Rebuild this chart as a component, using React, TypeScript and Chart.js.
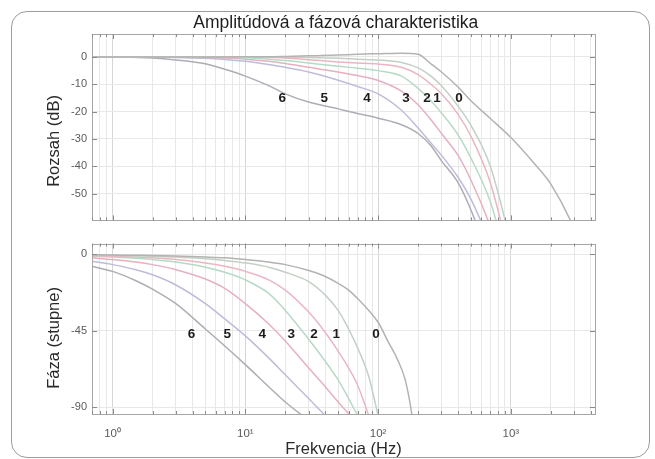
import React, { useEffect, useRef } from 'react';
import { Chart, registerables } from 'chart.js';

Chart.register(...registerables);

// ---------- texts ----------
const TITLE = 'Amplitúdová a fázová charakteristika';
const MAG_AXIS_TITLE = 'Rozsah (dB)';
const PHASE_AXIS_TITLE = 'Fáza (stupne)';
const X_AXIS_TITLE = 'Frekvencia (Hz)';

// ---------- axes ----------
const X_MIN = 0.7;
const X_MAX = 4300;
const X_DECADES = [1, 10, 100, 1000];
const X_DECADE_LABELS = ['10⁰', '10¹', '10²', '10³'];

const MAG_TICKS = [0, -10, -20, -30, -40, -50];
const MAG_MIN = -59.8;
const MAG_MAX = 8.4;
const PHASE_TICKS = [0, -45, -90];
const PHASE_MIN = -94.1;
const PHASE_MAX = 6.4;

// ---------- series ----------
const CURVE_NAMES = ['0', '1', '2', '3', '4', '5', '6'];
const CURVE_COLORS = ['#b3b3b3', '#c3d0c6', '#ebb6c3', '#b6dac6', '#e6b0bf', '#bdbddb', '#adadb5'];

const MAG_FREQ = [0.7, 1, 2, 3, 5, 7, 10, 15, 20, 30, 50, 70, 100, 150, 200, 250, 300, 400, 500, 700, 1000, 1500, 2000, 3000, 4300];
const MAG_0 = [0, 0, 0, 0, 0, 0, 0.1, 0.1, 0.2, 0.4, 0.7, 1.0, 1.2, 1.4, 1.0, -2.5, -5.5, -11, -16, -22.5, -29.5, -39, -46.5, -63, -85];
const MAG_1 = [0, 0, 0, 0, 0, 0, 0, 0, -0.1, -0.2, -0.5, -0.8, -1.1, -2, -4, -7, -10.5, -18, -25, -40, -68];
const MAG_2 = [0, 0, 0, 0, 0, 0, 0, -0.2, -0.4, -1, -1.8, -2.2, -2.6, -3.8, -6.5, -10, -13.5, -21, -29, -46, -75];
const MAG_3 = [0, 0, 0, 0, 0, -0.1, -0.3, -0.8, -1.3, -2.2, -3.4, -4.1, -5, -7, -11.5, -16, -20.5, -28.5, -37, -53, -80];
const MAG_4 = [0, 0, 0, 0, -0.2, -0.4, -0.8, -1.6, -2.4, -3.8, -5.5, -6.8, -8.6, -12.5, -17.5, -23, -28, -36, -45, -62, -85];
const MAG_5 = [0, 0, 0, -0.2, -0.5, -0.9, -1.6, -2.8, -3.8, -5.5, -8.5, -10.8, -13.5, -19.5, -26, -31.5, -36, -44, -52, -68];
const MAG_6 = [0, 0, -0.4, -1.1, -2.5, -4.5, -7, -10.5, -13.5, -16.5, -19, -20.7, -22.4, -24.8, -28, -32.5, -38, -46, -56, -75];

const PHASE_FREQ = [0.7, 1, 1.5, 2, 3, 5, 7, 10, 15, 20, 30, 40, 50, 60, 70, 85, 100, 120, 140, 160, 180, 200];
const PHASE_0 = [-0.2, -0.3, -0.5, -0.6, -0.9, -1.5, -2, -3, -4.5, -6, -9.5, -13, -17, -21, -26, -33, -40, -52, -62, -74, -95, -125];
const PHASE_1 = [-0.3, -0.5, -0.8, -1, -1.5, -2.5, -3.5, -5, -7.5, -10.5, -16, -24, -33, -44, -55, -72, -95, -120];
const PHASE_2 = [-0.7, -1, -1.5, -2, -3, -5, -7, -10, -15, -21, -34, -46, -57, -67, -77, -95, -110];
const PHASE_3 = [-1, -1.5, -2.2, -3, -4.5, -7.5, -10.5, -15, -23, -33, -50, -63, -74, -85, -95, -108];
const PHASE_4 = [-2, -3, -4.5, -6, -9, -14.5, -20, -29, -41, -51, -67, -78, -87, -94, -100];
const PHASE_5 = [-4, -6, -9, -12, -18, -29, -38, -48, -61, -71, -85, -95, -103];
const PHASE_6 = [-7, -10, -15.5, -20.5, -29, -44, -54, -65, -78, -87, -98, -106];

// curve number labels (placed in data coordinates)
const MAG_LABEL_FREQ = [407, 278, 233, 162, 82.6, 39.3, 19.0];
const MAG_LABEL_DB = -15;
const PHASE_LABEL_FREQ = [96.5, 48.3, 32.9, 22.2, 13.4, 7.3, 3.93];
const PHASE_LABEL_DEG = -46.8;

const MAG_SERIES = [MAG_0, MAG_1, MAG_2, MAG_3, MAG_4, MAG_5, MAG_6];
const PHASE_SERIES = [PHASE_0, PHASE_1, PHASE_2, PHASE_3, PHASE_4, PHASE_5, PHASE_6];

const FONT = '"Liberation Sans", Arial, Helvetica, sans-serif';

function gridTicks(): number[] {
  const out: number[] = [];
  for (let e = -1; e <= 3; e++) {
    for (let m = 1; m <= 9; m++) {
      const v = m * Math.pow(10, e);
      if (v >= X_MIN - 1e-9 && v <= X_MAX) out.push(v);
    }
  }
  return out;
}

const isDecade = (v: number) => X_DECADES.some((d) => Math.abs(d - v) < 1e-9);

const framePlugin = {
  id: 'frame',
  afterDatasetsDraw(chart: any, _args: any, opts: any) {
    const { ctx, chartArea: a, scales } = chart;
    const xs = scales.x;
    const ys = scales.y;
    ctx.save();
    ctx.strokeStyle = '#a6a6a6';
    ctx.lineWidth = 1;
    ctx.strokeRect(Math.round(a.left) + 0.5, Math.round(a.top) + 0.5, Math.round(a.width), Math.round(a.height));
    ctx.strokeStyle = '#8a8a8a';
    ctx.beginPath();
    xs.ticks.forEach((t: any) => {
      const px = Math.round(xs.getPixelForValue(t.value)) + 0.5;
      const len = isDecade(t.value) ? 5 : 3;
      ctx.moveTo(px, a.top);
      ctx.lineTo(px, a.top + len);
      ctx.moveTo(px, a.bottom);
      ctx.lineTo(px, a.bottom - len);
    });
    ys.ticks.forEach((t: any) => {
      const py = Math.round(ys.getPixelForValue(t.value)) + 0.5;
      ctx.moveTo(a.left, py);
      ctx.lineTo(a.left + 5, py);
      ctx.moveTo(a.right, py);
      ctx.lineTo(a.right - 5, py);
    });
    ctx.stroke();
    if (opts && opts.freqs) {
      ctx.font = 'bold 13.5px ' + FONT;
      ctx.fillStyle = '#1c1c1c';
      ctx.textAlign = 'center';
      ctx.textBaseline = 'middle';
      opts.freqs.forEach((f: number, i: number) => {
        ctx.fillText(opts.texts[i], xs.getPixelForValue(f), ys.getPixelForValue(opts.value));
      });
    }
    ctx.restore();
  },
};

function buildDatasets(freqs: number[], series: number[][]) {
  return series.map((vals, i) => ({
    label: CURVE_NAMES[i],
    data: vals.map((v, j) => ({ x: freqs[j], y: v })),
    borderColor: CURVE_COLORS[i],
    borderWidth: 1.5,
    pointRadius: 0,
    fill: false,
    cubicInterpolationMode: 'monotone' as const,
  }));
}

function makeConfig(kind: 'mag' | 'phase'): any {
  const isMag = kind === 'mag';
  const ticksX = gridTicks();
  return {
    type: 'line',
    data: {
      datasets: isMag ? buildDatasets(MAG_FREQ, MAG_SERIES) : buildDatasets(PHASE_FREQ, PHASE_SERIES),
    },
    plugins: [framePlugin],
    options: {
      responsive: false,
      animation: false,
      events: [],
      layout: {
        padding: isMag ? { left: 62, right: 60, top: 0, bottom: 3 } : { left: 62, right: 60, top: 10, bottom: 0 },
      },
      plugins: {
        legend: { display: false },
        tooltip: { enabled: false },
        title: isMag
          ? {
              display: true,
              text: '   ' + TITLE,
              color: '#1e1e1e',
              font: { family: FONT, size: 17.5, weight: 'normal' },
              padding: { top: 13, bottom: 0 },
            }
          : { display: false },
        frame: {
          freqs: isMag ? MAG_LABEL_FREQ : PHASE_LABEL_FREQ,
          value: isMag ? MAG_LABEL_DB : PHASE_LABEL_DEG,
          texts: CURVE_NAMES,
        },
      },
      scales: {
        x: {
          type: 'logarithmic',
          min: X_MIN,
          max: X_MAX,
          afterBuildTicks: (s: any) => {
            s.ticks = ticksX.map((v) => ({ value: v }));
          },
          afterFit: (s: any) => {
            s.height = isMag ? 0 : 45;
          },
          grid: {
            drawTicks: false,
            color: (c: any) => (c.tick && isDecade(c.tick.value) ? '#d6d6d6' : '#e8e8e8'),
          },
          border: { display: false },
          ticks: {
            display: !isMag,
            autoSkip: false,
            maxRotation: 0,
            padding: 13,
            color: '#5a5a5a',
            font: { family: FONT, size: 11.5 },
            callback: (_v: any, i: number, ticks: any[]) => {
              const idx = X_DECADES.findIndex((d) => Math.abs(d - ticks[i].value) < 1e-9);
              return idx >= 0 ? X_DECADE_LABELS[idx] : '';
            },
          },
          title: isMag
            ? { display: false }
            : {
                display: true,
                text: X_AXIS_TITLE,
                color: '#2a2a2a',
                font: { family: FONT, size: 16.5 },
                padding: { top: 0, bottom: 0 },
              },
        },
        y: {
          type: 'linear',
          min: isMag ? MAG_MIN : PHASE_MIN,
          max: isMag ? MAG_MAX : PHASE_MAX,
          afterBuildTicks: (s: any) => {
            s.ticks = (isMag ? MAG_TICKS : PHASE_TICKS).map((v) => ({ value: v }));
          },
          afterFit: (s: any) => {
            s.width = 30;
          },
          grid: { drawTicks: false, color: '#e8e8e8' },
          border: { display: false },
          ticks: {
            padding: 5,
            color: '#5a5a5a',
            font: { family: FONT, size: 11 },
          },
          title: {
            display: true,
            text: isMag ? MAG_AXIS_TITLE + '      ' : PHASE_AXIS_TITLE + '    ',
            color: '#2a2a2a',
            font: { family: FONT, size: 16.5 },
            padding: { top: -17, bottom: 0 },
          },
        },
      },
    },
  };
}

export default function App() {
  const magRef = useRef<HTMLCanvasElement | null>(null);
  const phaseRef = useRef<HTMLCanvasElement | null>(null);

  useEffect(() => {
    const c1 = new Chart(magRef.current as HTMLCanvasElement, makeConfig('mag'));
    const c2 = new Chart(phaseRef.current as HTMLCanvasElement, makeConfig('phase'));
    return () => {
      c1.destroy();
      c2.destroy();
    };
  }, []);

  return (
    <div style={{ position: 'fixed', left: 0, top: 0, width: 655, height: 459, background: '#fff', overflow: 'hidden' }}>
      <div
        style={{
          position: 'absolute',
          left: 11,
          top: 11,
          width: 639,
          height: 447,
          boxSizing: 'border-box',
          border: '1.5px solid #9c9c9c',
          borderRadius: 16,
        }}
      />
      <canvas ref={magRef} width={655} height={232} style={{ position: 'absolute', left: 0, top: 0, width: 655, height: 232 }} />
      <canvas ref={phaseRef} width={655} height={227} style={{ position: 'absolute', left: 0, top: 232, width: 655, height: 227 }} />
    </div>
  );
}
